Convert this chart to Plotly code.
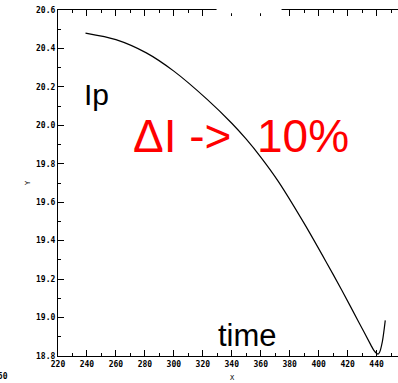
import plotly.graph_objects as go

# Data
time_x = [239, 260, 281, 300, 323, 340, 350, 360, 372, 390, 405, 416, 428, 436, 438, 440, 441, 442, 444, 446]
ip_y = [20.48, 20.446, 20.377, 20.282, 20.135, 20.011, 19.928, 19.835, 19.71, 19.49, 19.292, 19.142, 18.972, 18.858, 18.831, 18.814, 18.81, 18.818, 18.875, 18.985]

x_ticks = [220, 240, 260, 280, 300, 320, 340, 360, 380, 400, 420, 440]
y_ticks = [18.8, 19.0, 19.2, 19.4, 19.6, 19.8, 20.0, 20.2, 20.4, 20.6]

tickfont = dict(family="DejaVu Sans Mono", size=8, color="black", weight="bold")

fig = go.Figure()
fig.add_trace(go.Scatter(x=time_x, y=ip_y, mode="lines",
                         line=dict(color="black", width=1.2, shape="spline", smoothing=0.8),
                         showlegend=False, hoverinfo="skip"))

fig.update_layout(
    width=398, height=383,
    margin=dict(l=58, r=0, t=10, b=27),
    paper_bgcolor="white", plot_bgcolor="white",
    xaxis=dict(range=[220, 454.8], tickvals=x_ticks, ticktext=[str(v) for v in x_ticks],
               showgrid=False, zeroline=False, showline=True, linecolor="black", linewidth=1.2,
               mirror="allticks", ticks="inside", ticklen=6, tickwidth=1, tickcolor="black",
               minor=dict(dtick=10, tick0=220, ticks="inside", ticklen=3, tickcolor="black", showgrid=False),
               tickfont=tickfont),
    yaxis=dict(range=[18.8, 20.6], tickvals=y_ticks, ticktext=["%.1f" % v for v in y_ticks],
               showgrid=False, zeroline=False, showline=True, linecolor="black", linewidth=1.2,
               mirror=False, ticks="inside", ticklen=6, tickwidth=1, tickcolor="black",
               minor=dict(dtick=0.1, tick0=18.8, ticks="inside", ticklen=3, tickcolor="black", showgrid=False),
               tickfont=tickfont),
)

# white patch covering part of the top axis line
fig.add_shape(type="rect", xref="x", yref="paper", x0=329.5, x1=374.4, y0=0.9908, y1=1.04,
              fillcolor="white", line=dict(width=0), layer="above")

txt = "Liberation Sans"
fig.add_annotation(x=246.7, y=20.16, xref="x", yref="y", text="Ip", showarrow=False,
                   font=dict(family=txt, size=30, color="black"))
fig.add_annotation(x=346.7, y=19.945, xref="x", yref="y", text="ΔI -&gt;  10%", showarrow=False,
                   font=dict(family=txt, size=46, color="red"))
fig.add_annotation(x=351.1, y=18.905, xref="x", yref="y", text="time", showarrow=False,
                   font=dict(family=txt, size=31, color="black"))

small = dict(family="DejaVu Sans Mono", size=7, color="black")
fig.add_annotation(x=22, y=183, xref="paper", yref="paper", text="Y", showarrow=False, textangle=-90,
                   font=small)
fig.add_annotation(x=233, y=383, xref="paper", yref="paper", text="X", showarrow=False, font=small,
                   yanchor="bottom", yshift=-1)
fig.add_annotation(x=10, y=383, xref="paper", yref="paper", text="460", showarrow=False, xanchor="right",
                   yanchor="bottom", font=tickfont)

# convert the pixel-placed small annotations to paper coords
for a in fig.layout.annotations:
    if a.xref == "paper":
        px, py = a.x, a.y
        a.x = (px - 58) / (398 - 58)
        a.y = 1 - (py - 10) / (383 - 10 - 27)

fig.write_html("out.html")
